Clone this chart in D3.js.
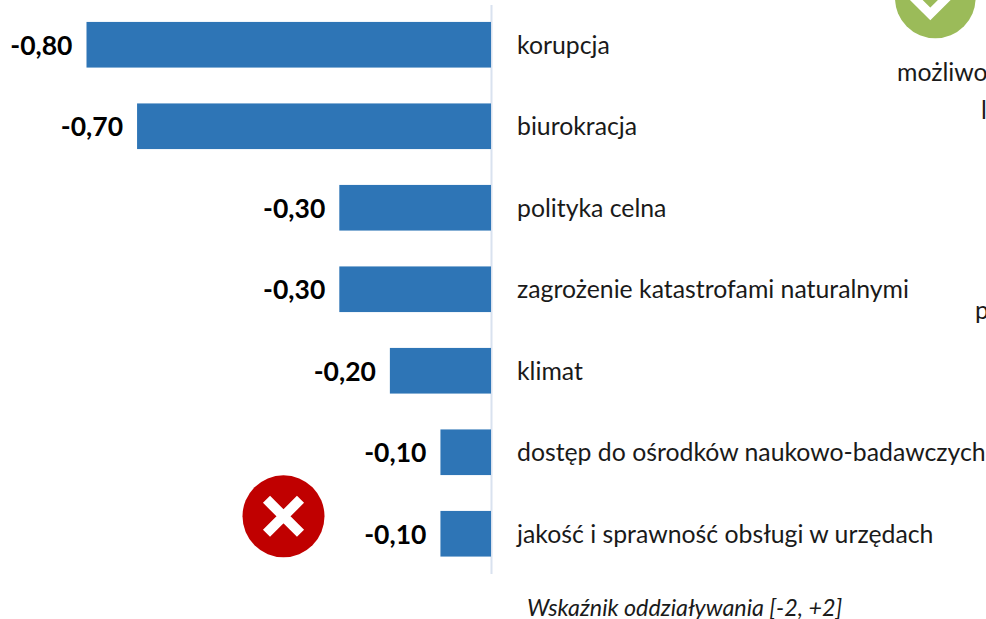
<!DOCTYPE html>
<html lang="pl">
<head>
<meta charset="utf-8">
<script src="https://cdn.jsdelivr.net/npm/d3@7"></script>
<style>
  html, body { margin: 0; padding: 0; background: #fff; overflow: hidden; }
  text { font-family: Lato, "Open Sans", sans-serif; fill: #1a1a1a; }
</style>
</head>
<body>
<svg id="chart"></svg>
<script>
const categories = [
    "korupcja",
    "biurokracja",
    "polityka celna",
    "zagrożenie katastrofami naturalnymi",
    "klimat",
    "dostęp do ośrodków naukowo-badawczych",
    "jakość i sprawność obsługi w urzędach"
];
const values = [-0.80, -0.70, -0.30, -0.30, -0.20, -0.10, -0.10];
const axisTitle = "Wskaźnik oddziaływania [-2, +2]";

const width = 986, height = 619;
const svg = d3.select("#chart").attr("width", width).attr("height", height);

const x = d3.scaleLinear().domain([-0.8, 0]).range([86.5, 491]);
const y = d3.scaleBand().domain(categories).range([4, 574.5]).paddingInner(0.44).paddingOuter(0.22);

// zero axis
svg.append("line")
    .attr("x1", x(0) + 0.5).attr("x2", x(0) + 0.5)
    .attr("y1", 5).attr("y2", 574)
    .attr("stroke", "#d9e2ef").attr("stroke-width", 2);

// bars
svg.selectAll("rect.bar")
    .data(values)
    .enter()
    .append("rect")
        .attr("class", "bar")
        .attr("x", d => x(d))
        .attr("y", (d, i) => y(categories[i]))
        .attr("width", d => x(0) - x(d))
        .attr("height", y.bandwidth())
        .attr("fill", "#2e75b6");

// value labels
svg.selectAll("text.value")
    .data(values)
    .enter()
    .append("text")
        .attr("class", "value")
        .attr("x", d => x(d) - 14)
        .attr("y", (d, i) => y(categories[i]) + y.bandwidth() / 2 + 10)
        .attr("text-anchor", "end")
        .attr("font-size", 26.5)
        .attr("font-weight", 700)
        .style("fill", "#000")
        .text(d => d.toFixed(2).replace(".", ","));

// category labels
svg.selectAll("text.cat")
    .data(categories)
    .enter()
    .append("text")
        .attr("class", "cat")
        .attr("x", 517)
        .attr("y", d => y(d) + y.bandwidth() / 2 + 9)
        .attr("font-size", 24.8)
        .text(d => d);

svg.append("text")
    .attr("x", 527).attr("y", 615.5)
    .attr("font-size", 23.3).attr("font-style", "italic")
    .text(axisTitle);

// red cross badge
const cross = svg.append("g").attr("transform", "translate(283.5,516.3)");
cross.append("circle").attr("r", 41).attr("fill", "#c00000");
cross.append("path")
    .attr("d", "M-17,-17L17,17M17,-17L-17,17")
    .attr("stroke", "#fff").attr("stroke-width", 10).attr("fill", "none");

// green check badge, cut off by the top edge
const check = svg.append("g").attr("transform", "translate(935.3,-2)");
check.append("circle").attr("r", 40.3).attr("fill", "#9bbb59");
check.append("path")
    .attr("d", "M-30,-9L-5,16L25,-14")
    .attr("stroke", "#fff").attr("stroke-width", 9).attr("fill", "none");

// text cut off by the right edge
const cutText = [["możliwo", 897, 81], ["l", 981, 119], ["p", 975, 319]];
svg.selectAll("text.cut")
    .data(cutText)
    .enter()
    .append("text")
        .attr("class", "cut")
        .attr("x", d => d[1])
        .attr("y", d => d[2])
        .attr("font-size", 24.8)
        .text(d => d[0]);
</script>
</body>
</html>
